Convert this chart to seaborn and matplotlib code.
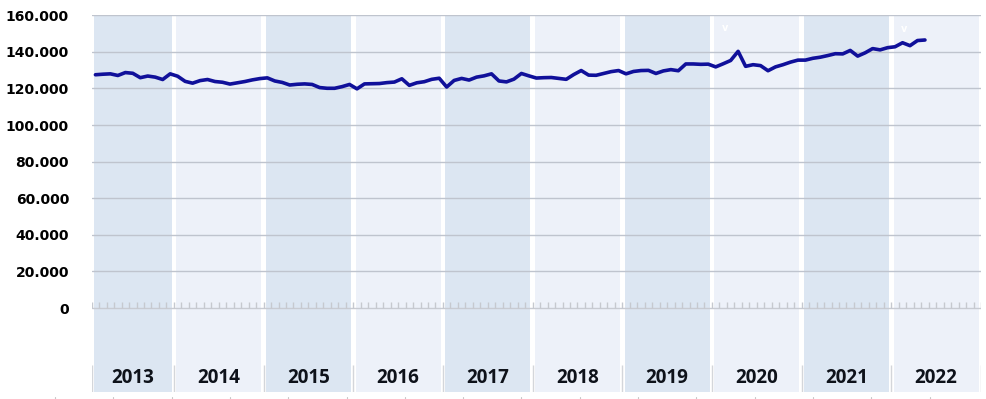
import matplotlib
matplotlib.use("Agg")
import matplotlib.pyplot as plt
import seaborn as sns
import numpy as np
import pandas as pd

# ---- data (monthly values, Feb 2013 .. May 2022) ----
years = ["2013", "2014", "2015", "2016", "2017", "2018", "2019", "2020", "2021", "2022"]
months_in_year = [11, 12, 12, 12, 12, 12, 12, 12, 12, 12]   # axis categories per year
v2013 = [127500, 127800, 128000, 127100, 128700, 128300, 125900, 126800, 126200, 124900, 128000]
v2014 = [126700, 123900, 122900, 124300, 124900, 123800, 123400, 122400, 123100, 123800, 124700, 125400]
v2015 = [125800, 124100, 123300, 121900, 122300, 122500, 122200, 120500, 120100, 120100, 121000, 122200]
v2016 = [119800, 122500, 122600, 122700, 123200, 123500, 125300, 121700, 123100, 123700, 125000, 125600]
v2017 = [120800, 124400, 125500, 124600, 126200, 126900, 128000, 124100, 123600, 125100, 128200, 126900]
v2018 = [125700, 125900, 126000, 125500, 125000, 127600, 129800, 127300, 127200, 128200, 129200, 129800]
v2019 = [128000, 129300, 129800, 129900, 128200, 129600, 130300, 129700, 133400, 133400, 133200, 133300]
v2020 = [131800, 133500, 135300, 140300, 132100, 133000, 132500, 129700, 131800, 133000, 134400, 135500]
v2021 = [135500, 136500, 137100, 138000, 139000, 138900, 140800, 137700, 139500, 141800, 141100, 142300]
v2022 = [142800, 145000, 143400, 146200, 146500]
y_ticks = [0, 20000, 40000, 60000, 80000, 100000, 120000, 140000, 160000]

values = v2013 + v2014 + v2015 + v2016 + v2017 + v2018 + v2019 + v2020 + v2021 + v2022
df = pd.DataFrame({"idx": np.arange(len(values)), "value": values})

# ---- style ----
sns.set_theme(style="white")
plt.rcParams["font.family"] = ["DejaVu Sans"]

W, H = 986, 399
fig = plt.figure(figsize=(W / 100, H / 100), dpi=100)
ax_left, ax_right, ax_top, ax_bot = 91.7, 981.0, 15.3, 392.0
ax = fig.add_axes([ax_left / W, (H - ax_bot) / H, (ax_right - ax_left) / W, (ax_bot - ax_top) / H])

n_cat = sum(months_in_year)
zero_px = 308.0
per_px = 160000 / (zero_px - ax_top)
y_bottom = -(ax_bot - zero_px) * per_px
ax.set_xlim(-0.5, n_cat - 0.5)
ax.set_ylim(y_bottom, 160000)

# year bands
dark, light = "#dce6f2", "#edf1f9"
starts = np.concatenate([[0], np.cumsum(months_in_year)[:-1]])
gap = 0.32
for k, (yr, s, m) in enumerate(zip(years, starts, months_in_year)):
    lo, hi = s - 0.5, s + m - 0.5
    ax.axvspan(lo + gap, hi - gap, ymin=0, ymax=1, color=dark if k % 2 == 0 else light,
               lw=0, zorder=0)
    ax.text((lo + hi) / 2, -(378 - zero_px) * per_px, yr, ha="center", va="center",
            fontsize=13.5, fontweight="bold", color="#0e121a", family=["Open Sans", "DejaVu Sans"],
            zorder=5)

# separators between year labels
bounds = np.concatenate([starts - 0.5, [n_cat - 0.5]])
ax.vlines(bounds, y_bottom, -(365 - zero_px) * per_px, color="#d4d6da", lw=1.0, zorder=3)

# gridlines
for t in y_ticks:
    ax.axhline(t, color="#bfc4ce" if t > 0 else "#c8cbd2", lw=1.0, zorder=1)

# month ticks at y = 0
month_b = np.arange(n_cat + 1) - 0.5
ax.vlines(month_b, 0, 6 * per_px, color="#c6c9cf", lw=1.0, zorder=1)

# white marker glyphs
ax.text(84.2, 152900, "v", color="white", fontsize=7, fontweight="bold", ha="center", va="center", zorder=4)
ax.text(108.2, 152300, "v", color="white", fontsize=7, fontweight="bold", ha="center", va="center", zorder=4)

# main line
sns.lineplot(data=df, x="idx", y="value", ax=ax, color="#10109a", lw=2.6, zorder=6,
             solid_joinstyle="round", solid_capstyle="round")

# y axis labels
ax.set_yticks(y_ticks)
ax.set_yticklabels([f"{t:,}".replace(",", ".") for t in y_ticks])
ax.tick_params(axis="y", length=0, pad=16.3, labelsize=10)
for lab in ax.get_yticklabels():
    lab.set_fontweight("bold")
    lab.set_color("#000000")
ax.set_xticks([])
ax.set_xlabel("")
ax.set_ylabel("")
for sp in ax.spines.values():
    sp.set_visible(False)

# tiny marks at bottom edge
fig_marks = np.arange(55, W, 58.3)
for xm in fig_marks:
    fig.add_artist(plt.Line2D([xm / W, xm / W], [0, 2 / H], color="#c8c8c8", lw=0.8))

fig.savefig("out.png", dpi=100)
